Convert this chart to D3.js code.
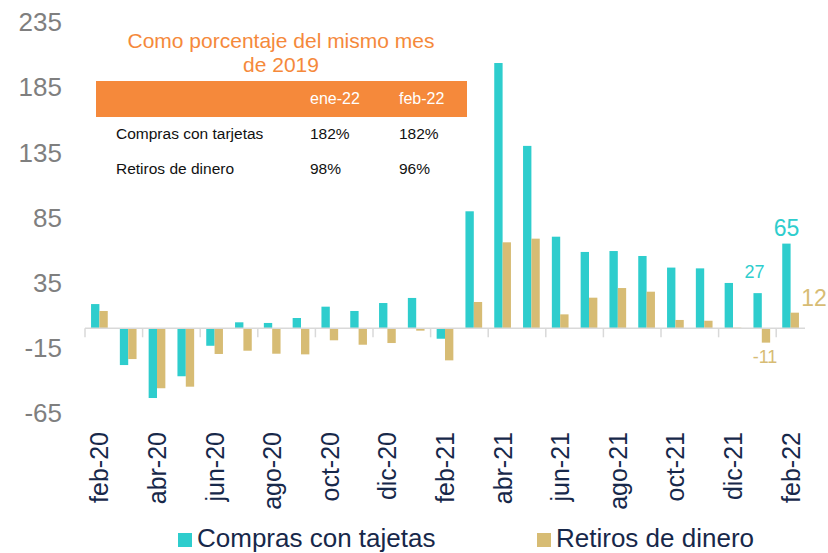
<!DOCTYPE html>
<html>
<head>
<meta charset="utf-8">
<script src="https://cdn.jsdelivr.net/npm/d3@7"></script>
<style>
  html, body { margin: 0; padding: 0; background: #fff; }
  svg { display: block; font-family: "Liberation Sans", Arial, sans-serif; }
</style>
</head>
<body>
<svg id="chart" width="828" height="553"></svg>
<script>
// ---- Data ----
const months = ["feb-20","mar-20","abr-20","may-20","jun-20","jul-20","ago-20","sep-20","oct-20","nov-20","dic-20","ene-21",
                "feb-21","mar-21","abr-21","may-21","jun-21","jul-21","ago-21","sep-21","oct-21","nov-21","dic-21","ene-22","feb-22"];
const compras = [18.6,-28.2,-53.5,-36.8,-13.4,4.6,4.1,7.9,16.6,13.3,19.4,23.3,
                 -8,89.8,203.6,140,70.3,58.6,59.3,55.5,46.6,46,34.8,27,65];
const retiros = [13.3,-23.6,-46,-44.8,-19.7,-17.2,-19.5,-20,-9.2,-12.6,-11.3,-1.8,
                 -24.6,20.2,66,68.8,10.7,23.5,30.9,28.1,6.4,5.8,0.5,-11,12];
const yTicks = [-65,-15,35,85,135,185,235];
const seriesNames = ["Compras con tajetas","Retiros de dinero"];
const tableTitle = ["Como porcentaje del mismo mes","de 2019"];
const tableCols = ["ene-22","feb-22"];
const tableRows = [["Compras con tarjetas","182%","182%"],["Retiros de dinero","98%","96%"]];

// ---- Styles ----
const CYAN = "#2ECDCD", GOLD = "#D7BC74", ORANGE = "#F5893B", NAVY = "#17284A", GREY = "#7F7F7F";

const svg = d3.select("#chart");
const x = d3.scaleBand().domain(months).range([85, 805]).paddingInner(0).paddingOuter(0);
const y = d3.scaleLinear().domain([-65, 235]).range([413.0, 22.1]);
const groupW = x.bandwidth() * 0.58;
const barW = groupW / 2;
const off = (x.bandwidth() - groupW) / 2;

// y labels
svg.append("g").selectAll("text").data(yTicks).join("text")
  .attr("x", 62).attr("y", d => y(d)).attr("dy", "0.35em")
  .attr("text-anchor", "end").attr("fill", GREY).attr("font-size", 26)
  .text(d => d);

// bars
const bars = svg.append("g");
bars.selectAll("rect.c").data(compras).join("rect").attr("class","c")
  .attr("x", (d,i) => x(months[i]) + off)
  .attr("y", d => y(Math.max(0,d)))
  .attr("width", barW)
  .attr("height", d => Math.abs(y(d) - y(0)))
  .attr("fill", CYAN);
bars.selectAll("rect.r").data(retiros).join("rect").attr("class","r")
  .attr("x", (d,i) => x(months[i]) + off + barW)
  .attr("y", d => y(Math.max(0,d)))
  .attr("width", barW)
  .attr("height", d => Math.abs(y(d) - y(0)))
  .attr("fill", GOLD);

// zero axis + ticks
svg.append("line").attr("x1", 85).attr("x2", 805).attr("y1", y(0)).attr("y2", y(0))
  .attr("stroke", "#D9D9D9").attr("stroke-width", 1.5);
const tickMonths = months.filter((m,i) => i % 2 === 0);
svg.append("g").selectAll("line").data(tickMonths).join("line")
  .attr("x1", d => x(d)).attr("x2", d => x(d))
  .attr("y1", y(0)).attr("y2", y(0) + 9)
  .attr("stroke", "#D9D9D9").attr("stroke-width", 1.5);

// x labels
svg.append("g").selectAll("text").data(tickMonths).join("text")
  .attr("transform", d => `translate(${x(d) + x.bandwidth()/2 + 9},432) rotate(-90)`)
  .attr("text-anchor", "end").attr("fill", NAVY).attr("font-size", 25)
  .text(d => d);

// data labels
const n = months.length;
const lab = svg.append("g");
lab.append("text").attr("x", x(months[n-1]) + off + barW/2).attr("y", y(compras[n-1]) - 8)
  .attr("text-anchor","middle").attr("fill", CYAN).attr("font-size", 23).text(Math.round(compras[n-1]));
lab.append("text").attr("x", x(months[n-2]) + off + barW/2 - 3).attr("y", y(compras[n-2]) - 15)
  .attr("text-anchor","middle").attr("fill", CYAN).attr("font-size", 18).text(Math.round(compras[n-2]));
lab.append("text").attr("x", 814).attr("y", y(retiros[n-1]) - 7)
  .attr("text-anchor","middle").attr("fill", GOLD).attr("font-size", 23).text(Math.round(retiros[n-1]));
lab.append("text").attr("x", 765).attr("y", y(retiros[n-2]) + 20)
  .attr("text-anchor","middle").attr("fill", GOLD).attr("font-size", 18).text(Math.round(retiros[n-2]));

// inset table
const tg = svg.append("g");
tg.selectAll("text.t").data(tableTitle).join("text").attr("class","t")
  .attr("x", 281).attr("y", (d,i) => 48 + i*24)
  .attr("text-anchor","middle").attr("fill", ORANGE).attr("font-size", 21).text(d => d);
tg.append("rect").attr("x", 96).attr("y", 81).attr("width", 371).attr("height", 36).attr("fill", ORANGE);
const colX = [116, 310, 399];
tg.selectAll("text.h").data(tableCols).join("text").attr("class","h")
  .attr("x", (d,i) => colX[i+1]).attr("y", 104)
  .attr("fill", "#fff").attr("font-size", 16).text(d => d);
tableRows.forEach((row, r) => {
  tg.selectAll(null).data(row).join("text")
    .attr("x", (d,i) => colX[i]).attr("y", 139 + r*34.5)
    .attr("fill", "#111").attr("font-size", 15.5).text(d => d);
});

// legend
const legX = [178, 537];
const lg = svg.append("g");
seriesNames.forEach((s, i) => {
  lg.append("rect").attr("x", legX[i]).attr("y", 533).attr("width", 14).attr("height", 14)
    .attr("fill", i === 0 ? CYAN : GOLD);
  lg.append("text").attr("x", legX[i] + 19).attr("y", 547).attr("fill", NAVY)
    .attr("font-size", 26).text(s);
});
</script>
</body>
</html>
